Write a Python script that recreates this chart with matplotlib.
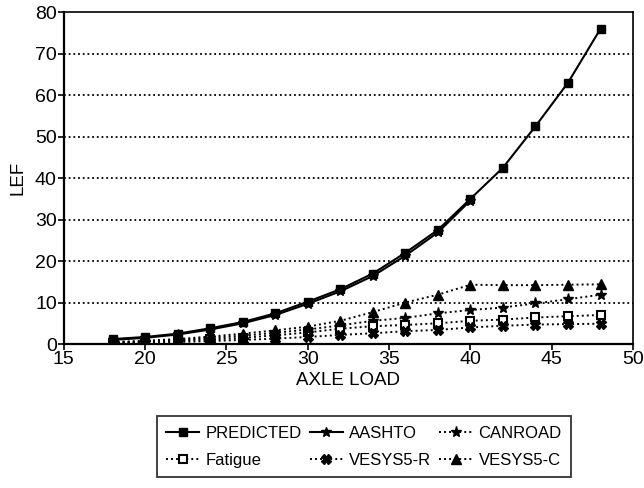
import numpy as np
import matplotlib.pyplot as plt
from matplotlib.lines import Line2D

plt.rcParams['font.family'] = ['Liberation Sans', 'DejaVu Sans']

axle = [18, 20, 22, 24, 26, 28, 30, 32, 34, 36, 38, 40, 42, 44, 46, 48]
predicted = [1.2, 1.7, 2.5, 3.8, 5.3, 7.4, 10.2, 13.2, 17.0, 22.0, 27.5, 35.0, 42.5, 52.5, 63.0, 76.0]
aashto_load = [18, 20, 22, 24, 26, 28, 30, 32, 34, 36, 38, 40]
aashto = [1.0, 1.5, 2.3, 3.5, 5.0, 7.0, 9.7, 12.7, 16.4, 21.3, 26.9, 34.6]
canroad = [0.4, 0.6, 1.0, 1.5, 2.0, 2.7, 3.5, 4.5, 5.6, 6.3, 7.4, 8.2, 8.8, 9.8, 10.8, 11.9]
fatigue = [0.3, 0.5, 0.8, 1.1, 1.5, 2.1, 2.8, 3.7, 4.3, 4.6, 5.0, 5.6, 5.9, 6.4, 6.7, 7.0]
vesys_r = [0.2, 0.3, 0.5, 0.7, 1.0, 1.3, 1.7, 2.2, 2.6, 3.1, 3.4, 4.0, 4.4, 4.7, 4.8, 4.9]
vesys_c = [0.5, 0.8, 1.2, 1.8, 2.5, 3.3, 4.2, 5.6, 7.7, 10.0, 11.9, 14.3, 14.2, 14.2, 14.3, 14.4]

fig = plt.figure(figsize=(6.44, 4.88), dpi=100)
ax = fig.add_axes([0.099, 0.295, 0.884, 0.68])

dot = (0, (1, 1.6))
for yv in range(10, 80, 10):
    ax.axhline(yv, color='black', lw=1.3, ls=dot, zorder=0)

h_pred, = ax.plot(axle, predicted, color='black', lw=1.5, marker='s', ms=6, label='PREDICTED')
h_aash, = ax.plot(aashto_load, aashto, color='black', lw=1.5, marker='*', ms=7, label='AASHTO')
h_can, = ax.plot(axle, canroad, color='black', lw=1.4, ls=dot, marker='*', ms=8, label='CANROAD')
h_fat, = ax.plot(axle, fatigue, color='black', lw=1.4, ls=dot, marker='s', ms=6, mfc='white',
                 mew=1.5, label='Fatigue')
h_vr, = ax.plot(axle, vesys_r, color='black', lw=1.4, ls=dot, marker='X', ms=7, label='VESYS5-R')
h_vc, = ax.plot(axle, vesys_c, color='black', lw=1.4, ls=dot, marker='^', ms=7, label='VESYS5-C')

ax.set_xlim(15, 50)
ax.set_ylim(0, 80)
ax.set_xticks(range(15, 51, 5))
ax.set_yticks(range(0, 81, 10))
ax.tick_params(direction='out', length=4, width=1.2, labelsize=14, pad=1)
for s in ax.spines.values():
    s.set_linewidth(1.2)
ax.spines['left'].set_linewidth(1.6)
ax.spines['bottom'].set_linewidth(1.6)
ax.set_xlabel('AXLE LOAD', fontsize=13.5, labelpad=3)
ax.set_ylabel('LEF', fontsize=13.5, labelpad=6)

handles = [h_pred, h_fat, h_aash, h_vr, h_can, h_vc]
leg = fig.legend(handles=handles, labels=[h.get_label() for h in handles], ncol=3,
                 loc='lower center', bbox_to_anchor=(0.565, 0.005), frameon=True,
                 fancybox=False, edgecolor='black', fontsize=12, handlelength=2.0,
                 columnspacing=0.5, handletextpad=0.35, borderpad=0.55, labelspacing=0.75)
leg.get_frame().set_linewidth(1.3)

fig.savefig('out.png', dpi=100)
